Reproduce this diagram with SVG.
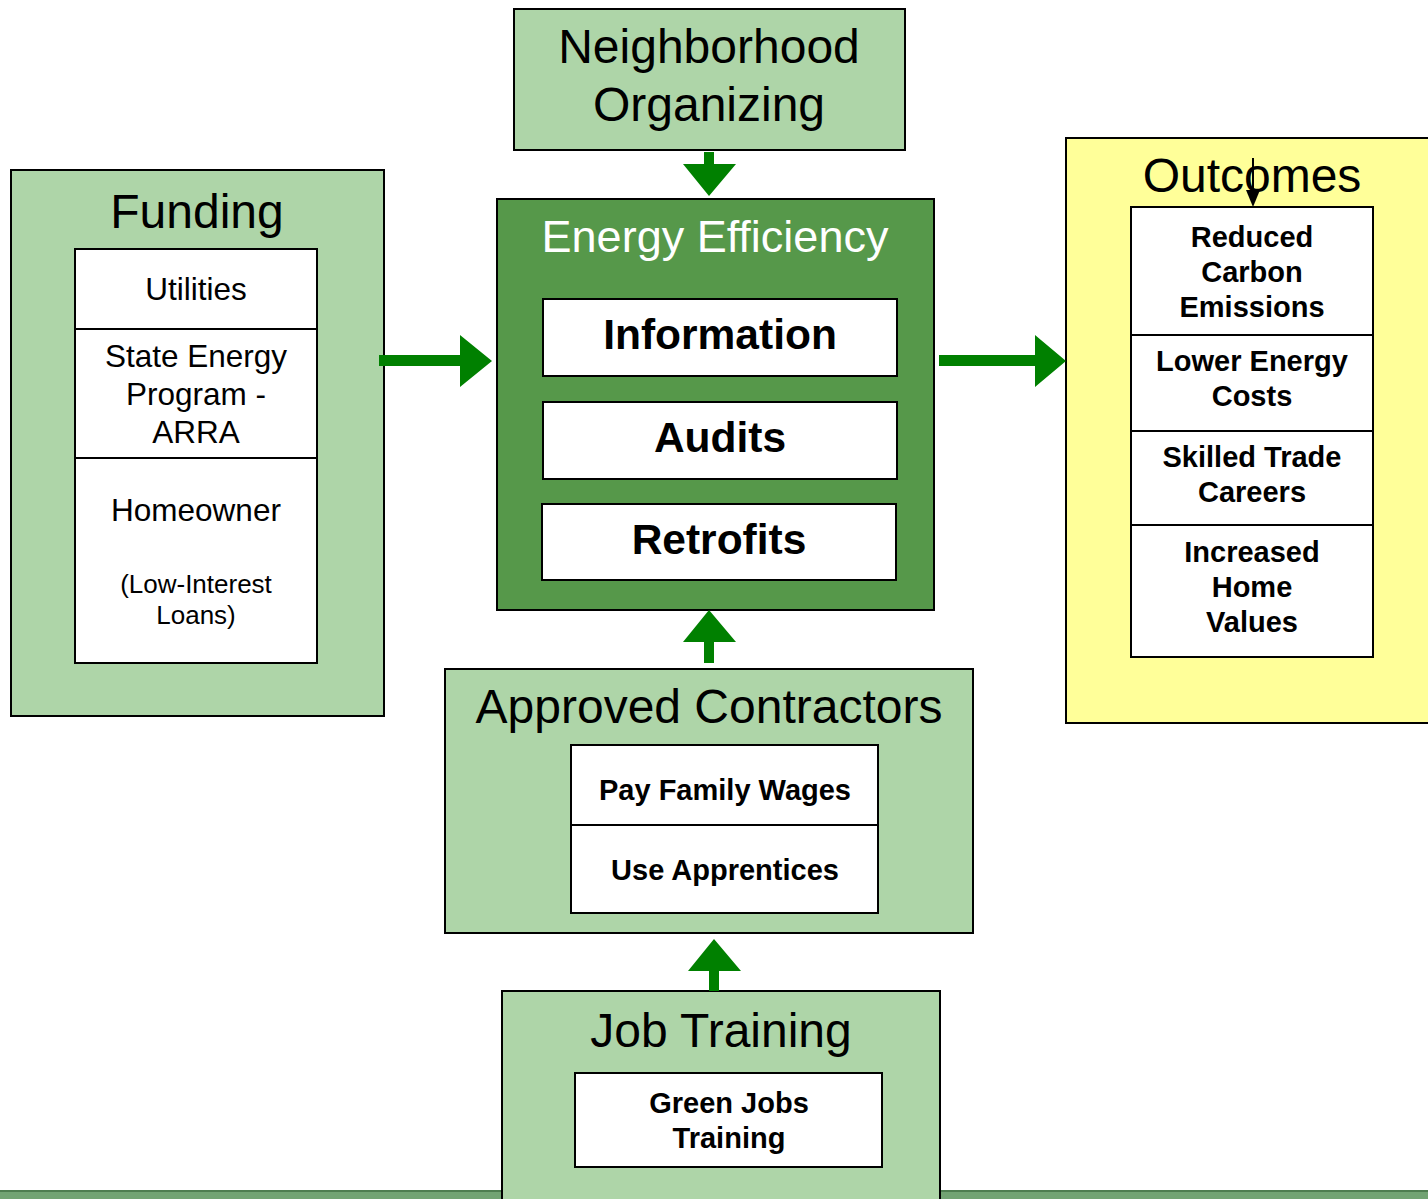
<svg xmlns="http://www.w3.org/2000/svg" width="1428" height="1199" viewBox="0 0 1428 1199">
<defs>
<style>
.lg{fill:#aed5a8;stroke:#000;stroke-width:2}
.dg{fill:#56984a;stroke:#000;stroke-width:2}
.yl{fill:#ffff99;stroke:#000;stroke-width:2}
.wb{fill:#fff;stroke:#000;stroke-width:2}
.ln{stroke:#000;stroke-width:2}
text{font-family:"Liberation Sans",Arial,sans-serif;text-anchor:middle;fill:#000}
.t48{font-size:48px}
.t46{font-size:48px}
.n28{font-size:31.5px}
.n24{font-size:26px}
.b40{font-size:42.5px;font-weight:bold}
.b27{font-size:29px;font-weight:bold}
.arr{fill:#008000}
</style>
</defs>
<rect x="0" y="1190" width="1428" height="9" fill="#72a373"/>
<rect x="0" y="1190" width="1428" height="2" fill="#4e7d50"/>
<g id="neighborhood">
<rect class="lg" x="514" y="9" width="391" height="141"/>
<text class="t48" x="709" y="63">Neighborhood</text>
<text class="t48" x="709" y="121">Organizing</text>
</g>
<g id="funding">
<rect class="lg" x="11" y="170" width="373" height="546"/>
<text class="t48" x="197" y="228">Funding</text>
<rect class="wb" x="75" y="249" width="242" height="414"/>
<line class="ln" x1="75" y1="329" x2="317" y2="329"/>
<line class="ln" x1="75" y1="458" x2="317" y2="458"/>
<text class="n28" x="196" y="300">Utilities</text>
<text class="n28" x="196" y="367">State Energy</text>
<text class="n28" x="196" y="405">Program -</text>
<text class="n28" x="196" y="443">ARRA</text>
<text class="n28" x="196" y="521">Homeowner</text>
<text class="n24" x="196" y="593">(Low-Interest</text>
<text class="n24" x="196" y="624">Loans)</text>
</g>
<g id="energy-efficiency">
<rect class="dg" x="497" y="199" width="437" height="411"/>
<text x="715" y="252" style="fill:#fff;font-size:45px">Energy Efficiency</text>
<g id="information"><rect class="wb" x="543" y="299" width="354" height="77"/><text class="b40" x="720" y="349">Information</text></g>
<g id="audits"><rect class="wb" x="543" y="402" width="354" height="77"/><text class="b40" x="720" y="452">Audits</text></g>
<g id="retrofits"><rect class="wb" x="542" y="504" width="354" height="76"/><text class="b40" x="719" y="554">Retrofits</text></g>
</g>
<g id="outcomes">
<rect class="yl" x="1066" y="138" width="380" height="585"/>
<text class="t46" x="1252" y="192">Outcomes</text>
<rect class="wb" x="1131" y="207" width="242" height="450"/>
<line class="ln" x1="1131" y1="335" x2="1373" y2="335"/>
<line class="ln" x1="1131" y1="431" x2="1373" y2="431"/>
<line class="ln" x1="1131" y1="525" x2="1373" y2="525"/>
<text class="b27" x="1252" y="247">Reduced</text>
<text class="b27" x="1252" y="282">Carbon</text>
<text class="b27" x="1252" y="317">Emissions</text>
<text class="b27" x="1252" y="371">Lower Energy</text>
<text class="b27" x="1252" y="406">Costs</text>
<text class="b27" x="1252" y="467">Skilled Trade</text>
<text class="b27" x="1252" y="502">Careers</text>
<text class="b27" x="1252" y="562">Increased</text>
<text class="b27" x="1252" y="597">Home</text>
<text class="b27" x="1252" y="632">Values</text>
</g>
<g id="contractors">
<rect class="lg" x="445" y="669" width="528" height="264"/>
<text class="t46" x="709" y="723">Approved Contractors</text>
<rect class="wb" x="571" y="745" width="307" height="168"/>
<line class="ln" x1="571" y1="825" x2="878" y2="825"/>
<text class="b27" x="725" y="800">Pay Family Wages</text>
<text class="b27" x="725" y="880">Use Apprentices</text>
</g>
<g id="job-training">
<rect class="lg" x="502" y="991" width="438" height="220"/>
<text class="t46" x="721" y="1047">Job Training</text>
<rect class="wb" x="575" y="1073" width="307" height="94"/>
<text class="b27" x="729" y="1113">Green Jobs</text>
<text class="b27" x="729" y="1148">Training</text>
</g>
<g id="connectors">
<polygon class="arr" points="379,355 460,355 460,335 492,361 460,387 460,366 379,366"/>
<polygon class="arr" points="939,355 1035,355 1035,335 1066,361 1035,387 1035,366 939,366"/>
<polygon class="arr" points="704,152 714,152 714,164 736,164 709,196 683,164 704,164"/>
<polygon class="arr" points="709,610 736,642 714,642 714,663 704,663 704,642 683,642"/>
<polygon class="arr" points="714,939 741,971 719,971 719,991 709,991 709,971 688,971"/>
<line x1="1253" y1="158" x2="1253" y2="192" stroke="#000" stroke-width="2"/>
<polygon points="1246,190 1260,190 1253,207" fill="#000"/>
</g>
</svg>
